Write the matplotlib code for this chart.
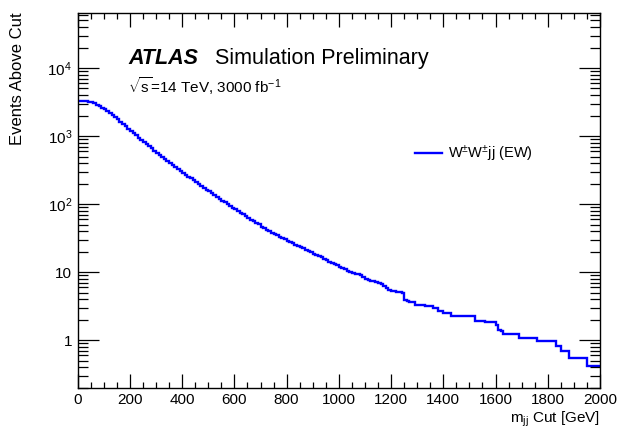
import numpy as np
import matplotlib
matplotlib.use("Agg")
import matplotlib.pyplot as plt
from matplotlib import ticker

# ROOT / ATLAS-like look
plt.rcParams['font.family'] = ['Liberation Sans', 'DejaVu Sans']
plt.rcParams['mathtext.fontset'] = 'custom'
plt.rcParams['mathtext.rm'] = 'Liberation Sans'
plt.rcParams['mathtext.it'] = 'Liberation Sans:italic'
plt.rcParams['mathtext.bf'] = 'Liberation Sans:bold'

# Cumulative events above m_jj cut, 10 GeV bins from 0 to 2000 GeV
bin_edges = np.arange(0, 2010, 10)
events_above_cut = [
    3300, 3300, 3290, 3260, 3200, 3120, 3010, 2890, 2750, 2610,      # 0-90
    2470, 2320, 2170, 2020, 1880, 1750, 1620, 1500, 1390, 1290,      # 100-190
    1190, 1100, 1020, 944, 877, 815, 759, 706, 658, 612,             # 200-290
    571, 533, 498, 465, 434, 406, 378, 354, 331, 310,                # 300-390
    290, 271, 254, 238, 223, 209, 196, 184, 173, 163,                # 400-490
    153, 144, 135, 127, 119, 112.5, 106, 99.8, 94.0, 88.5,           # 500-590
    83.6, 78.9, 74.5, 70.3, 66.4, 62.7, 59.3, 56.1, 53.1, 50.2,      # 600-690
    46.2, 44.1, 42.0, 40.0, 38.2, 36.5, 34.8, 33.3, 31.8, 30.3,      # 700-790
    29.0, 27.7, 26.5, 25.4, 24.3, 23.3, 22.3, 21.3, 20.4, 19.5,      # 800-890
    18.7, 17.9, 17.2, 16.5, 15.8, 15.2, 14.1, 13.5, 13.0, 12.6,      # 900-990
    12.0, 11.5, 11.0, 10.5, 10.0, 9.66, 9.44, 9.23, 9.02, 8.51,      # 1000-1090
    8.04, 7.67, 7.50, 7.33, 7.16, 6.92, 6.76, 6.31, 5.75, 5.50,      # 1100-1190
    5.31, 5.19, 5.13, 5.07, 5.01, 3.89, 3.76, 3.67, 3.60, 3.31,      # 1200-1290
    3.31, 3.31, 3.31, 3.14, 3.14, 3.14, 2.98, 2.98, 2.66, 2.66,      # 1300-1390
    2.52, 2.52, 2.52, 2.25, 2.25, 2.25, 2.25, 2.25, 2.25, 2.25,      # 1400-1490
    2.25, 2.25, 1.93, 1.93, 1.93, 1.93, 1.82, 1.82, 1.82, 1.82,      # 1500-1590
    1.67, 1.41, 1.35, 1.25, 1.25, 1.25, 1.25, 1.25, 1.25, 1.09,      # 1600-1690
    1.09, 1.09, 1.09, 1.09, 1.09, 1.09, 0.96, 0.96, 0.96, 0.96,      # 1700-1790
    0.96, 0.96, 0.96, 0.82, 0.82, 0.69, 0.69, 0.69, 0.54, 0.54,      # 1800-1890
    0.54, 0.54, 0.54, 0.54, 0.54, 0.41, 0.41, 0.41, 0.41, 0.41,      # 1900-1990
]

x_ticks = [0, 200, 400, 600, 800, 1000, 1200, 1400, 1600, 1800, 2000]
y_ticks = [1, 10, 100, 1000, 10000]
# math spaces push the 10^n labels left, like ROOT does
y_tick_labels = ['1', '10', r'$10^{2}\;\;$', r'$10^{3}\;\;$', r'$10^{4}\;\;$']

fig = plt.figure(figsize=(6.21, 4.36), dpi=100)
ax = fig.add_axes([0.1251, 0.1108, 0.9662 - 0.1251, 0.9709 - 0.1108])

ax.stairs(events_above_cut, bin_edges, baseline=None, color='#0000ff', linewidth=1.7,
          label=r'W$^{\pm}$W$^{\pm}$jj (EW)')

ax.set_yscale('log')
ax.set_xlim(0, 2000)
ax.set_ylim(0.2, 6.5e4)

ax.set_xticks(x_ticks)
ax.xaxis.set_minor_locator(ticker.MultipleLocator(50))
ax.set_yticks(y_ticks)
ax.set_yticklabels(y_tick_labels)
ax.yaxis.set_minor_locator(ticker.LogLocator(base=10, subs=np.arange(2, 10)))
ax.yaxis.set_minor_formatter(ticker.NullFormatter())

ax.tick_params(which='both', direction='in', top=True, right=True, labelsize=11, width=0.9)
ax.tick_params(axis='x', which='major', length=10, pad=4)
ax.tick_params(axis='x', which='minor', length=4.5)
ax.tick_params(axis='y', which='major', length=15, pad=4)
ax.tick_params(axis='y', which='minor', length=7.5)
for s in ax.spines.values():
    s.set_linewidth(1.0)

ax.set_xlabel(r'm$_{\mathregular{jj}}$ Cut [GeV]', fontsize=11, loc='right', labelpad=2)
ax.set_ylabel('Events Above Cut', fontsize=12, loc='top')
ax.yaxis.set_label_coords(-0.101, 1.0)

# ATLAS label
ax.text(0.098, 0.863, 'ATLAS', transform=ax.transAxes, fontsize=15.5,
        fontweight='bold', fontstyle='italic', va='baseline')
ax.text(0.263, 0.863, 'Simulation Preliminary', transform=ax.transAxes, fontsize=15.5,
        va='baseline')
ax.text(0.096, 0.786, r'$\sqrt{\mathregular{s}}$=14 TeV, 3000 fb$^{\mathregular{-1}}$',
        transform=ax.transAxes, fontsize=11, va='baseline')

ax.legend(loc='center left', bbox_to_anchor=(0.646, 0.623), frameon=False, fontsize=10.5,
          handlelength=1.85, handletextpad=0.4, borderpad=0, borderaxespad=0)

fig.savefig('out.png', dpi=100)
